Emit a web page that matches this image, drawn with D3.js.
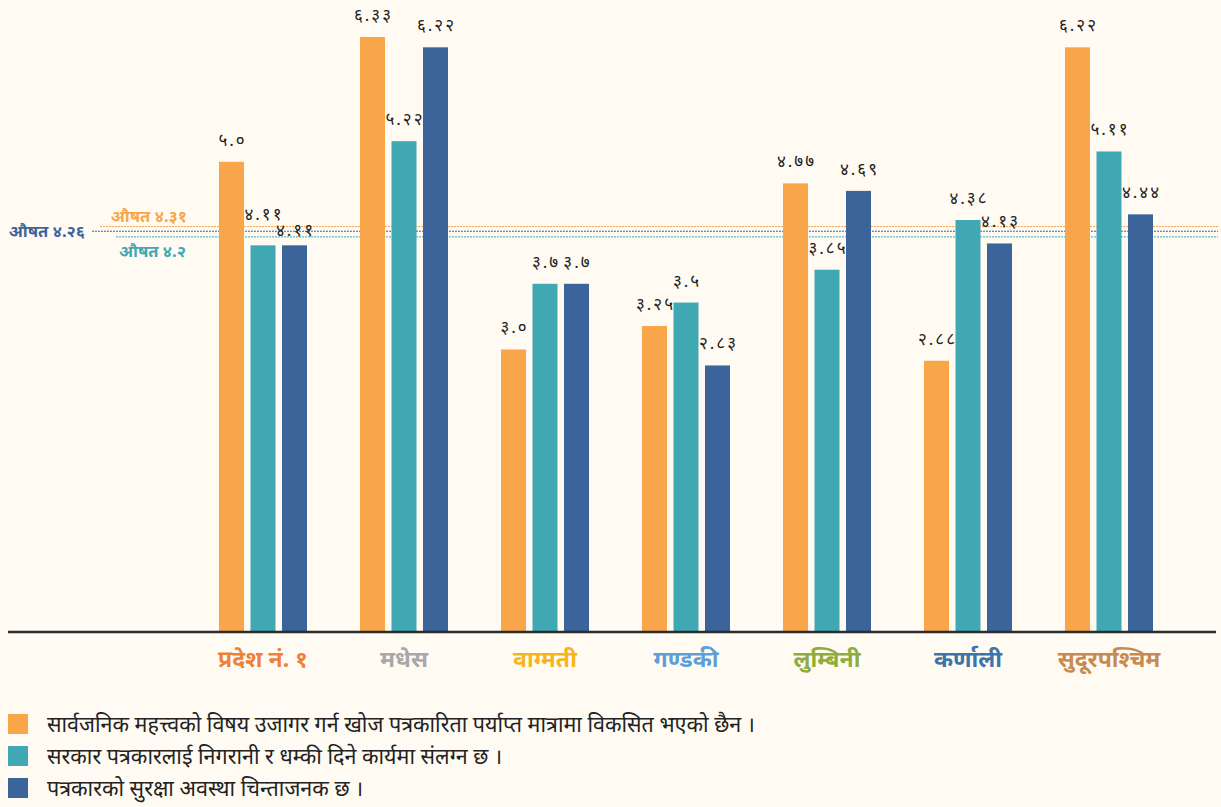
<!DOCTYPE html>
<html>
<head>
<meta charset="utf-8">
<script src="https://cdn.jsdelivr.net/npm/d3@7"></script>
<style>
  body { margin: 0; background: #fffbf3; }
  svg { display: block; font-family: "Noto Sans", sans-serif; }
</style>
</head>
<body>
<svg></svg>
<script>
// प्रदेश अनुसार औसत अंक
var provinces = ['प्रदेश नं. १', 'मधेस', 'वाग्मती', 'गण्डकी', 'लुम्बिनी', 'कर्णाली', 'सुदूरपश्चिम'];
var provinceColors = ['#ee8139', '#a8a8a8', '#f7b51c', '#5f9fd9', '#8ead3c', '#3d74a9', '#c98a52'];
var seriesNames = [
  'सार्वजनिक महत्त्वको विषय उजागर गर्न खोज पत्रकारिता पर्याप्त मात्रामा विकसित भएको छैन ।',
  'सरकार पत्रकारलाई निगरानी र धम्की दिने कार्यमा संलग्न छ ।',
  'पत्रकारको सुरक्षा अवस्था चिन्ताजनक छ ।'
];
var seriesColors = ['#f9a54a', '#3fa8b3', '#3b649b'];
var investigative = [5.0, 6.33, 3.0, 3.25, 4.77, 2.88, 6.22];
var surveillance = [4.11, 5.22, 3.7, 3.5, 3.85, 4.38, 5.11];
var safety = [4.11, 6.22, 3.7, 2.83, 4.69, 4.13, 4.44];
var averages = [4.31, 4.2, 4.26];

var W = 1221, H = 807;
var svg = d3.select('svg').attr('width', W).attr('height', H);

var devDigits = '०१२३४५६७८९';
function toDev(v) {
  var s = String(v);
  if (s.indexOf('.') < 0) s = s + '.0';
  return s.replace(/[0-9]/g, function(c) { return devDigits[+c]; });
}

var x0 = d3.scaleBand().domain(provinces).range([192.5, 1179.5]).paddingInner(0.376).paddingOuter(0.188);
var x1 = d3.scaleBand().domain([0, 1, 2]).range([0, x0.bandwidth()]).paddingInner(0.206);
var y = d3.scaleLinear().domain([0, 6.33]).range([631, 37]);

var series = [investigative, surveillance, safety];

// average lines
var avgStart = [100, 116, 92];
averages.forEach(function(a, i) {
  svg.append('line')
    .attr('x1', avgStart[i]).attr('x2', 1218)
    .attr('y1', y(a)).attr('y2', y(a))
    .attr('stroke', seriesColors[i])
    .attr('stroke-width', 1)
    .attr('stroke-dasharray', '2,1');
});

// bars
series.forEach(function(vals, si) {
  svg.append('g').selectAll('rect')
    .data(vals)
    .enter()
    .append('rect')
    .attr('x', function(d, i) { return x0(provinces[i]) + x1(si); })
    .attr('y', function(d) { return y(d); })
    .attr('width', x1.bandwidth())
    .attr('height', function(d) { return y(0) - y(d); })
    .attr('fill', seriesColors[si]);
});

// value labels (प्रदेश नं. १ का दुई लेबल ठोक्किन नदिन अलि सारिएको)
function labelShift(si, i) {
  if (i === 0 && si === 1) return -9;
  if (i === 0 && si === 2) return 7;
  return 0;
}
series.forEach(function(vals, si) {
  svg.append('g').selectAll('text')
    .data(vals)
    .enter()
    .append('text')
    .attr('x', function(d, i) { return x0(provinces[i]) + x1(si) + x1.bandwidth() / 2 + 1; })
    .attr('y', function(d, i) { return y(d) - 16 + labelShift(si, i); })
    .attr('text-anchor', 'middle')
    .attr('font-size', 17)
    .attr('letter-spacing', 2)
    .attr('fill', '#222')
    .text(function(d) { return toDev(d); });
});

// average labels
var avgLabelPos = [[187, 222], [186, 257], [85, 237]];
averages.forEach(function(a, i) {
  svg.append('text')
    .attr('x', avgLabelPos[i][0])
    .attr('y', avgLabelPos[i][1])
    .attr('text-anchor', 'end')
    .attr('font-size', 16.5)
    .attr('font-weight', 'bold')
    .attr('fill', seriesColors[i])
    .text('औषत ' + toDev(a).replace(/\.०$/, ''));
});

// baseline
svg.append('line')
  .attr('x1', 8).attr('x2', 1216)
  .attr('y1', 632).attr('y2', 632)
  .attr('stroke', '#2b2b2b').attr('stroke-width', 2.5);

// category labels
svg.append('g').selectAll('text')
  .data(provinces)
  .enter()
  .append('text')
  .attr('x', function(d) { return x0(d) + x0.bandwidth() / 2; })
  .attr('y', 667)
  .attr('text-anchor', 'middle')
  .attr('font-size', 23)
  .attr('font-weight', 'bold')
  .attr('fill', function(d, i) { return provinceColors[i]; })
  .text(function(d) { return d; });

// legend
var legend = svg.append('g').selectAll('g')
  .data(seriesNames)
  .enter()
  .append('g')
  .attr('transform', function(d, i) { return 'translate(8,' + (714 + i * 32) + ')'; });
legend.append('rect')
  .attr('width', 20).attr('height', 20)
  .attr('fill', function(d, i) { return seriesColors[i]; });
legend.append('text')
  .attr('x', 39).attr('y', 18)
  .attr('font-size', 21.5)
  .attr('fill', '#222')
  .text(function(d) { return d; });
</script>
</body>
</html>
